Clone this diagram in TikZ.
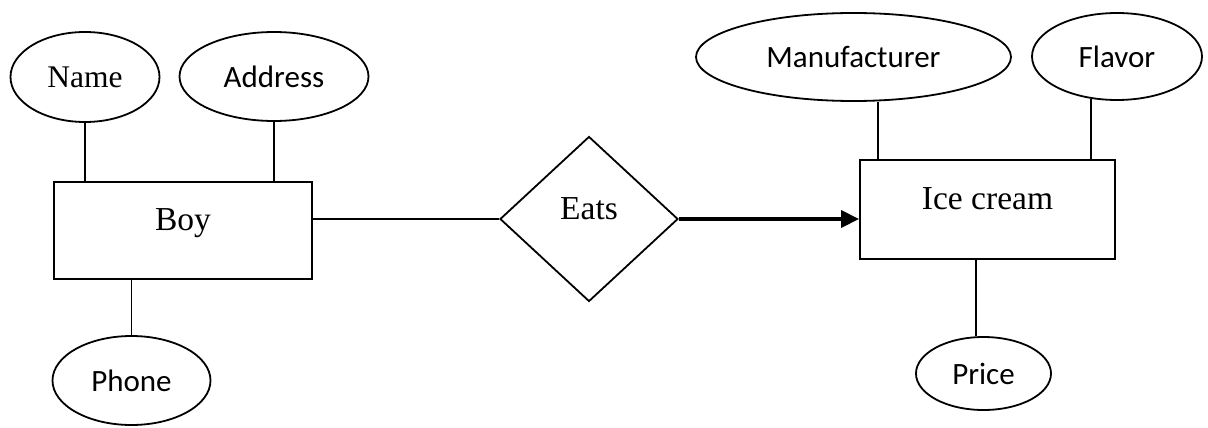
\documentclass[tikz,border=0pt]{standalone}
\usepackage{fontspec}
\setmainfont{Liberation Serif}
\newfontfamily\calib{Carlito}
\usetikzlibrary{shapes.geometric,arrows.meta}
\begin{document}
\begin{tikzpicture}[x=1pt,y=-1pt,
  line width=1.8pt,
  ent/.style={draw, rectangle, inner sep=0pt, font=\fontsize{33.5}{33.5}\selectfont, text height=11pt, text depth=11pt},
  attr/.style={draw, ellipse, inner sep=0pt, font=\calib\fontsize{31}{31}\selectfont},
  rel/.style={draw, diamond, inner sep=0pt, font=\fontsize{33.5}{33.5}\selectfont, text height=11pt, text depth=11pt},
  link/.style={line width=1.8pt},
  onearrow/.style={line width=3.4pt, -{Triangle[length=18pt,width=17pt]}}
]
\useasboundingbox (0,0) rectangle (1208,428);

% entities
\node[ent, minimum width=258pt, minimum height=97pt] (boy) at (183,230.5) {Boy};
\node[ent, minimum width=255pt, minimum height=99pt] (ice) at (987.5,209.5) {Ice cream};

% relationship
\node[rel, minimum width=178pt, minimum height=165pt, aspect=1.08] (eats) at (589,219) {Eats};

% attributes
\node[attr, minimum width=149pt, minimum height=90pt, font=\fontsize{31.5}{31.5}\selectfont] (name) at (85,77) {Name};
\node[attr, minimum width=189pt, minimum height=89pt] (addr) at (274,76.5) {Address};
\node[attr, minimum width=158pt, minimum height=89pt] (phone) at (131.5,380.5) {Phone};
\node[attr, minimum width=315pt, minimum height=88pt] (manu) at (853.5,57) {Manufacturer};
\node[attr, minimum width=170pt, minimum height=87pt] (flav) at (1117,56.5) {Flavor};
\node[attr, minimum width=135pt, minimum height=73pt] (price) at (983.5,373.5) {Price};

% attribute links
\draw[link] (name.south) -- (name.south |- boy.north);
\draw[link] (addr.south) -- (addr.south |- boy.north);
\draw[link] (phone.north) -- (phone.north |- boy.south);
\coordinate (m1) at ([xshift=19pt]ice.north west);
\coordinate (f1) at ([xshift=232pt]ice.north west);
\coordinate (p1) at ([xshift=117pt]ice.south west);
\draw[link] (m1) -- (manu.south -| m1);
\draw[link, shorten >=-2pt] (f1) -- (flav.south -| f1);
\draw[link] (p1) -- (price.north -| p1);

% relationship links
\draw[link] (boy.east |- eats.west) -- (eats.west);
\draw[onearrow] (eats.east) -- (ice.west |- eats.east);
\end{tikzpicture}
\end{document}
